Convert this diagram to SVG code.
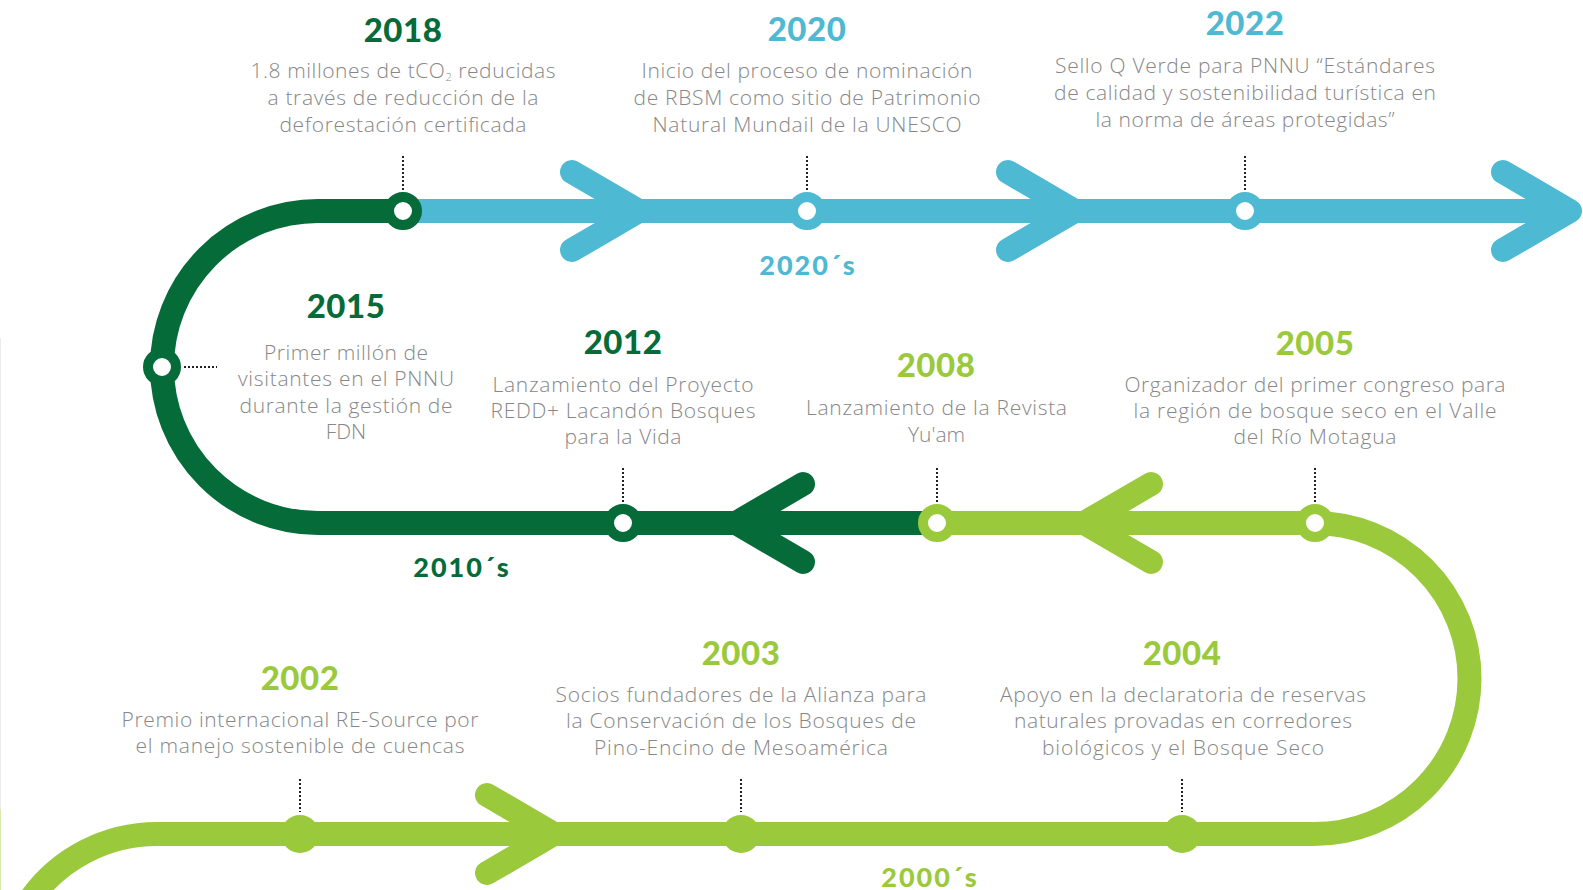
<svg xmlns="http://www.w3.org/2000/svg" width="1583" height="890" viewBox="0 0 1583 890">
<style>
.yr{font-family:Lato,"Open Sans",sans-serif;font-weight:900;font-size:33px;letter-spacing:0.5px;text-anchor:middle}
.ds{font-family:"Open Sans",Lato,sans-serif;font-weight:300;font-size:21px;fill:#878787;text-anchor:middle}
.dec{font-family:Lato,"Open Sans",sans-serif;font-weight:900;font-size:27px;letter-spacing:2px;text-anchor:middle}
.dot{stroke:#222;stroke-width:2;stroke-dasharray:2 2;fill:none}
.ring{fill:#fff;stroke-width:10}
.ln{fill:none;stroke-width:24}
.chev{fill:none;stroke-width:24;stroke-linecap:round;stroke-linejoin:round}
.dgf{fill:#056b39}.dgs{stroke:#056b39}
.blf{fill:#4eb9d3}.bls{stroke:#4eb9d3}
.lgf{fill:#9aca3c}.lgs{stroke:#9aca3c}
</style>
<rect width="1583" height="890" fill="#fff"/>
<line x1="0.5" y1="338" x2="0.5" y2="809" stroke="#ececec" stroke-width="1"/>
<line x1="0.5" y1="809" x2="0.5" y2="890" stroke="#d6eab2" stroke-width="1"/>
<g id="connectors">
  <path class="ln bls" d="M403 211 H1570"/>
  <path class="ln dgs" d="M403 211 H318 A156 156 0 0 0 318 523 H937"/>
  <path class="ln lgs" d="M937 523 H1314 A155.5 155.5 0 0 1 1314 834 H157 A155.5 155.5 0 0 0 29.8 900"/>
  <path class="chev bls" d="M572 172 L639 211 L572 250"/>
  <path class="chev bls" d="M1008 172 L1075 211 L1008 250"/>
  <path class="chev bls" d="M1503 172 L1570 211 L1503 250"/>
  <path class="chev dgs" d="M803 484 L736 523 L803 562"/>
  <path class="chev lgs" d="M1151 484 L1084 523 L1151 562"/>
  <path class="chev lgs" d="M487 795 L554 834 L487 873"/>
</g>
<g id="decades">
  <text class="dec blf" x="808" y="275">2020´s</text>
  <text class="dec dgf" x="462" y="577">2010´s</text>
  <text class="dec lgf" x="930" y="887">2000´s</text>
</g>
<g id="n2018">
  <line class="dot" x1="403" y1="156" x2="403" y2="190"/>
  <circle class="ring dgs" cx="403" cy="211" r="14"/>
  <text class="yr dgf" x="403" y="42">2018</text>
  <text class="ds" x="403" y="78.3" textLength="305" lengthAdjust="spacing">1.8 millones de tCO<tspan font-size="11" dy="3">2</tspan><tspan dy="-3"> reducidas</tspan></text>
  <text class="ds" x="403" y="105" textLength="271" lengthAdjust="spacing">a través de reducción de la</text>
  <text class="ds" x="403" y="131.7" textLength="247" lengthAdjust="spacing">deforestación certificada</text>
</g>
<g id="n2020">
  <line class="dot" x1="807" y1="156" x2="807" y2="190"/>
  <circle class="ring bls" cx="807" cy="211" r="14"/>
  <text class="yr blf" x="807" y="41">2020</text>
  <text class="ds" x="807" y="78.3" textLength="331" lengthAdjust="spacing">Inicio del proceso de nominación</text>
  <text class="ds" x="807" y="105" textLength="347" lengthAdjust="spacing">de RBSM como sitio de Patrimonio</text>
  <text class="ds" x="807" y="131.7" textLength="309" lengthAdjust="spacing">Natural Mundail de la UNESCO</text>
</g>
<g id="n2022">
  <line class="dot" x1="1245" y1="156" x2="1245" y2="190"/>
  <circle class="ring bls" cx="1245" cy="211" r="14"/>
  <text class="yr blf" x="1245" y="35">2022</text>
  <text class="ds" x="1245" y="73.3" textLength="380" lengthAdjust="spacing">Sello Q Verde para PNNU “Estándares</text>
  <text class="ds" x="1245" y="100" textLength="382" lengthAdjust="spacing">de calidad y sostenibilidad turística en</text>
  <text class="ds" x="1245" y="126.7" textLength="299" lengthAdjust="spacing">la norma de áreas protegidas”</text>
</g>
<g id="n2015">
  <line class="dot" x1="184" y1="367" x2="217" y2="367"/>
  <circle class="ring dgs" cx="162" cy="367" r="14"/>
  <text class="yr dgf" x="346" y="318">2015</text>
  <text class="ds" x="346" y="360" textLength="164" lengthAdjust="spacing">Primer millón de</text>
  <text class="ds" x="346" y="386" textLength="216" lengthAdjust="spacing">visitantes en el PNNU</text>
  <text class="ds" x="346" y="412.7" textLength="213" lengthAdjust="spacing">durante la gestión de</text>
  <text class="ds" x="346" y="439.3">FDN</text>
</g>
<g id="n2012">
  <line class="dot" x1="623" y1="468" x2="623" y2="502"/>
  <circle class="ring dgs" cx="623" cy="523" r="14"/>
  <text class="yr dgf" x="623" y="354">2012</text>
  <text class="ds" x="623" y="391.7" textLength="261" lengthAdjust="spacing">Lanzamiento del Proyecto</text>
  <text class="ds" x="623" y="418.3" textLength="265" lengthAdjust="spacing">REDD+ Lacandón Bosques</text>
  <text class="ds" x="623" y="444.3" textLength="117" lengthAdjust="spacing">para la Vida</text>
</g>
<g id="n2008">
  <line class="dot" x1="937" y1="468" x2="937" y2="502"/>
  <circle class="ring lgs" cx="937" cy="523" r="14"/>
  <text class="yr lgf" x="936" y="377">2008</text>
  <text class="ds" x="936.5" y="415" textLength="261" lengthAdjust="spacing">Lanzamiento de la Revista</text>
  <text class="ds" x="936.5" y="442.3">Yu'am</text>
</g>
<g id="n2005">
  <line class="dot" x1="1315" y1="468" x2="1315" y2="502"/>
  <circle class="ring lgs" cx="1315" cy="523" r="14"/>
  <text class="yr lgf" x="1315" y="355">2005</text>
  <text class="ds" x="1315" y="391.7" textLength="381" lengthAdjust="spacing">Organizador del primer congreso para</text>
  <text class="ds" x="1315" y="418.3" textLength="363" lengthAdjust="spacing">la región de bosque seco en el Valle</text>
  <text class="ds" x="1315" y="444" textLength="163" lengthAdjust="spacing">del Río Motagua</text>
</g>
<g id="n2004">
  <line class="dot" x1="1182" y1="779" x2="1182" y2="812"/>
  <circle class="lgf" cx="1182" cy="834" r="19"/>
  <text class="yr lgf" x="1182" y="665">2004</text>
  <text class="ds" x="1183" y="701.7" textLength="366" lengthAdjust="spacing">Apoyo en la declaratoria de reservas</text>
  <text class="ds" x="1183" y="728.3" textLength="338" lengthAdjust="spacing">naturales provadas en corredores</text>
  <text class="ds" x="1183" y="755" textLength="282" lengthAdjust="spacing">biológicos y el Bosque Seco</text>
</g>
<g id="n2003">
  <line class="dot" x1="741" y1="779" x2="741" y2="812"/>
  <circle class="lgf" cx="741" cy="834" r="19"/>
  <text class="yr lgf" x="741" y="665">2003</text>
  <text class="ds" x="741" y="701.7" textLength="371" lengthAdjust="spacing">Socios fundadores de la Alianza para</text>
  <text class="ds" x="741" y="728.3" textLength="350" lengthAdjust="spacing">la Conservación de los Bosques de</text>
  <text class="ds" x="741" y="755" textLength="294" lengthAdjust="spacing">Pino-Encino de Mesoamérica</text>
</g>
<g id="n2002">
  <line class="dot" x1="300" y1="779" x2="300" y2="812"/>
  <circle class="lgf" cx="300" cy="834" r="19"/>
  <text class="yr lgf" x="300" y="690">2002</text>
  <text class="ds" x="300" y="726.7" textLength="357" lengthAdjust="spacing">Premio internacional RE-Source por</text>
  <text class="ds" x="300" y="753.3" textLength="329" lengthAdjust="spacing">el manejo sostenible de cuencas</text>
</g>
</svg>
